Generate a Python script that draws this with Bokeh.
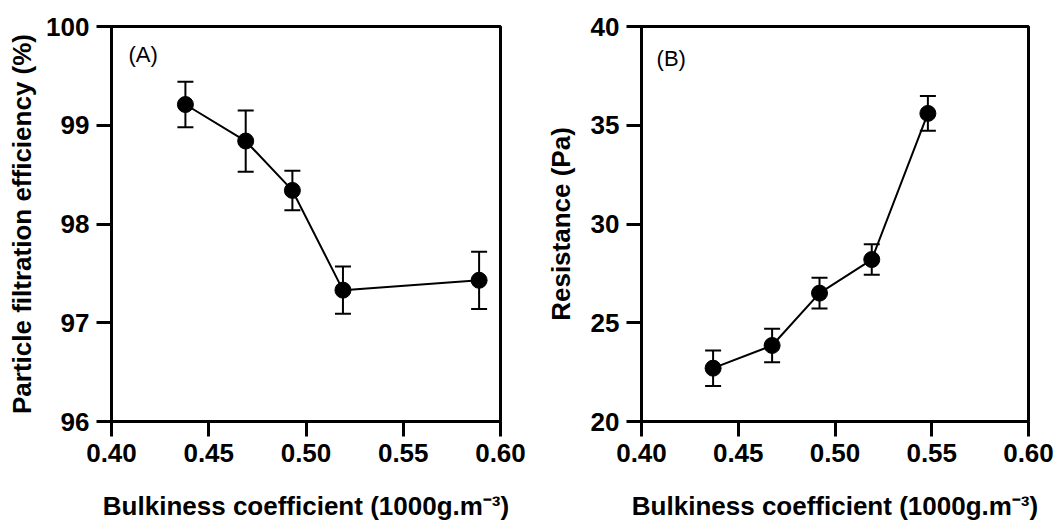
from bokeh.plotting import figure
from bokeh.layouts import row
from bokeh.models import ColumnDataSource, Whisker, TeeHead, Label, FixedTicker, NumeralTickFormatter, Range1d
from bokeh.embed import file_html
from bokeh.resources import INLINE

# Panel A: particle filtration efficiency
bulk_a = [0.438, 0.469, 0.493, 0.519, 0.589]
eff_a = [99.21, 98.84, 98.34, 97.33, 97.43]
err_a = [0.23, 0.31, 0.20, 0.24, 0.29]

# Panel B: resistance
bulk_b = [0.437, 0.4675, 0.492, 0.519, 0.548]
res_b = [22.7, 23.85, 26.5, 28.2, 35.6]
err_b = [0.9, 0.85, 0.78, 0.77, 0.88]

x_ticks = [0.40, 0.45, 0.50, 0.55, 0.60]
y_ticks_a = [96, 97, 98, 99, 100]
y_ticks_b = [20, 25, 30, 35, 40]

FONT = "Liberation Sans"
XLABEL = "Bulkiness coefficient (1000g.m\u207b\u00b3)"


def make_panel(xs, ys, errs, yrange, yticks, ylabel, tag, tag_pos, border_left, border_right, ylab_standoff):
    p = figure(width=531, height=523, output_backend="svg", toolbar_location=None,
               x_range=Range1d(0.40, 0.60), y_range=Range1d(*yrange),
               min_border_left=border_left, min_border_right=border_right,
               min_border_top=26, min_border_bottom=102)
    p.background_fill_color = "white"
    p.border_fill_color = "white"
    p.grid.visible = False
    p.outline_line_color = "black"
    p.outline_line_width = 3
    p.outline_line_alpha = 1

    for ax in (p.xaxis[0], p.yaxis[0]):
        ax.axis_line_width = 3
        ax.axis_line_color = "black"
        ax.major_tick_line_width = 3
        ax.major_tick_line_color = "black"
        ax.major_tick_in = 0
        ax.major_tick_out = 15
        ax.minor_tick_line_color = None
        ax.major_label_text_font = FONT
        ax.major_label_text_font_style = "bold"
        ax.major_label_text_font_size = "26px"
        ax.major_label_text_color = "black"
        ax.axis_label_text_font = FONT
        ax.axis_label_text_font_style = "bold"
        ax.axis_label_text_font_size = "26px"
        ax.axis_label_text_color = "black"

    p.xaxis.ticker = FixedTicker(ticks=x_ticks)
    p.xaxis.formatter = NumeralTickFormatter(format="0.00")
    p.xaxis.major_label_standoff = 7
    p.xaxis.axis_label = XLABEL
    p.xaxis.axis_label_standoff = 26
    p.xaxis.axis_label_text_line_height = 1.0
    p.xaxis.major_label_text_line_height = 1.0

    p.yaxis.ticker = FixedTicker(ticks=yticks)
    p.yaxis.major_label_standoff = 7
    p.yaxis.axis_label = ylabel
    p.yaxis.axis_label_standoff = ylab_standoff

    src = ColumnDataSource(data=dict(
        x=xs, y=ys,
        upper=[y + e for y, e in zip(ys, errs)],
        lower=[y - e for y, e in zip(ys, errs)],
    ))
    w = Whisker(base="x", upper="upper", lower="lower", source=src, dimension="height",
                line_width=2, line_color="black",
                upper_head=TeeHead(size=16, line_width=2, line_color="black"),
                lower_head=TeeHead(size=16, line_width=2, line_color="black"))
    p.add_layout(w)
    p.line("x", "y", source=src, line_width=2, line_color="black")
    p.scatter("x", "y", source=src, size=16, fill_color="black", line_color="black")

    p.add_layout(Label(x=tag_pos[0], y=tag_pos[1], text=tag, text_font=FONT,
                       text_font_size="22px", text_color="black",
                       text_baseline="middle", text_align="left"))
    return p


pa = make_panel(bulk_a, eff_a, err_a, (96, 100), y_ticks_a,
                "Particle filtration efficiency (%)", "(A)", (0.4087, 99.72), 111, 31, 6)
pb = make_panel(bulk_b, res_b, err_b, (20, 40), y_ticks_b,
                "Resistance (Pa)", "(B)", (0.4078, 38.38), 110, 34, 12)

layout = row(pa, pb)
open("out.html", "w").write(file_html(layout, INLINE))
